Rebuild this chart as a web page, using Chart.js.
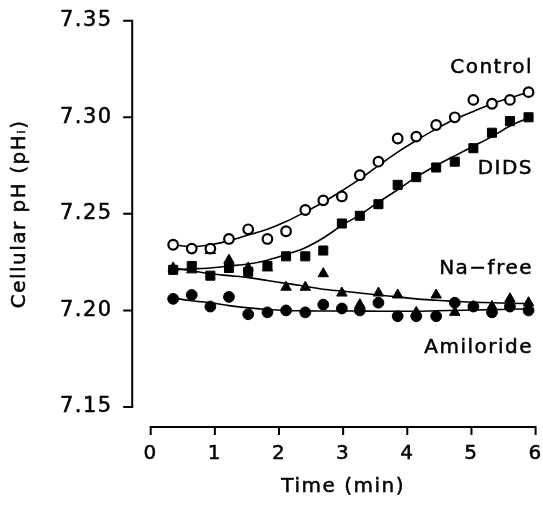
<!DOCTYPE html>
<html>
<head>
<meta charset="utf-8">
<script src="https://cdn.jsdelivr.net/npm/chart.js@4"></script>
<style>
  html,body{margin:0;padding:0;background:#fff;}
  #c{display:block;}
</style>
</head>
<body>
<canvas id="c" width="543" height="511"></canvas>
<script>
/* ====================== DATA ====================== */
const times     = [0.35,0.64,0.93,1.22,1.52,1.82,2.11,2.41,2.69,2.98,3.26,3.55,3.85,4.14,4.45,4.74,5.03,5.32,5.60,5.89];
const control   = [7.234,7.232,7.232,7.237,7.242,7.237,7.241,7.252,7.257,7.259,7.270,7.277,7.289,7.290,7.296,7.300,7.309,7.307,7.309,7.313];
const dids      = [7.221,7.223,7.218,7.222,7.220,7.223,7.228,7.228,7.231,7.245,7.249,7.255,7.265,7.269,7.274,7.277,7.284,7.292,7.298,7.300];
const naFree    = [7.222,7.221,7.231,7.226,7.222,7.222,7.212,7.212,7.219,7.209,7.203,7.209,7.208,7.199,7.208,7.199,7.202,7.202,7.206,7.204];
const amiloride = [7.206,7.208,7.202,7.207,7.198,7.199,7.200,7.199,7.203,7.201,7.200,7.204,7.197,7.197,7.197,7.204,7.202,7.199,7.202,7.200];

/* fitted curves at the same times */
const controlFit   = [7.234,7.233,7.234,7.236,7.239,7.242,7.246,7.251,7.256,7.262,7.268,7.275,7.282,7.288,7.294,7.299,7.303,7.307,7.310,7.313];
const didsFit      = [7.221,7.2215,7.222,7.223,7.224,7.226,7.229,7.2325,7.2375,7.244,7.2495,7.256,7.2625,7.269,7.275,7.280,7.285,7.290,7.2955,7.2997];
const naFreeFit    = [7.222,7.2205,7.219,7.218,7.217,7.2155,7.214,7.2125,7.211,7.210,7.209,7.208,7.207,7.206,7.2053,7.2047,7.2042,7.204,7.2037,7.2035];
const amilorideFit = [7.2065,7.205,7.204,7.2025,7.2013,7.2005,7.200,7.1998,7.1997,7.1997,7.1997,7.1996,7.1996,7.1996,7.1998,7.200,7.2002,7.2004,7.2006,7.2008];

const xTicks = [0,1,2,3,4,5,6];
const yTicks = [7.15,7.20,7.25,7.30,7.35];

const xTitle = 'Time (min)';
const yTitle = 'Cellular pH (pH\u1D62)';
const seriesNames = ['Control','DIDS','Na\u2212free','Amiloride'];
/* where the series names sit, in axis units (right edge, middle) */
const nameSpots = [[5.96,7.3255],[5.96,7.2735],[5.96,7.2215],[5.96,7.1805]];

/* ====================== HELPERS ====================== */
const FONT = '"DejaVu Sans", sans-serif';
const INK = 0.5;   // a little stroke on the text, the original type is heavier than Book
const pts = ys => times.map((t,i)=>({x:t,y:ys[i]}));

function marks(label, ys, style, radius, fill){
  return {
    label, data: pts(ys), showLine:false, order:1,
    pointStyle: style, pointRadius: radius, pointHoverRadius: radius,
    pointBackgroundColor: fill, pointBorderColor:'#000', pointBorderWidth: fill==='#fff'?2.2:1
  };
}
function curve(label, ys){
  return {
    label, data: pts(ys), showLine:true, order:2,
    borderColor:'#000', borderWidth:1.6, pointRadius:0, pointHoverRadius:0,
    cubicInterpolationMode:'monotone', fill:false
  };
}
function inkText(ctx, s, x, y){ ctx.strokeText(s, x, y); ctx.fillText(s, x, y); }

/* axes are drawn detached from the plot box, like the original */
const detachedAxes = {
  id:'detachedAxes',
  beforeDraw(chart){ chart.ctx.letterSpacing = '1.5px'; },
  afterDraw(chart){
    const {ctx, chartArea:a, scales:{x,y}} = chart;
    ctx.save();
    ctx.strokeStyle='#000'; ctx.lineWidth=2; ctx.lineCap='square';
    const yx = a.left - 18.5, xy = a.bottom + 20;
    ctx.beginPath();
    ctx.moveTo(yx, y.getPixelForValue(yTicks[yTicks.length-1]));
    ctx.lineTo(yx, y.getPixelForValue(yTicks[0]));
    yTicks.forEach(v=>{ const p=y.getPixelForValue(v); ctx.moveTo(yx,p); ctx.lineTo(yx-8,p); });
    ctx.moveTo(x.getPixelForValue(xTicks[0]), xy);
    ctx.lineTo(x.getPixelForValue(xTicks[xTicks.length-1]), xy);
    xTicks.forEach(v=>{ const p=x.getPixelForValue(v); ctx.moveTo(p,xy); ctx.lineTo(p,xy+7); });
    ctx.stroke();

    ctx.fillStyle='#000'; ctx.font='20px '+FONT; ctx.lineWidth=INK; ctx.lineCap='butt';
    ctx.textAlign='right'; ctx.textBaseline='middle';
    seriesNames.forEach((n,i)=>{
      inkText(ctx, n, x.getPixelForValue(nameSpots[i][0]), y.getPixelForValue(nameSpots[i][1]));
    });

    // axis titles
    ctx.textAlign='center';
    inkText(ctx, xTitle, (a.left+a.right)/2, a.bottom + 80);
    ctx.translate(20, (a.top+a.bottom)/2);
    ctx.rotate(-Math.PI/2);
    inkText(ctx, yTitle, 0, 0);
    ctx.restore();
  }
};

/* ====================== CHART ====================== */
new Chart(document.getElementById('c'), {
  type:'scatter',
  data:{ datasets:[
    curve('Control fit', controlFit),
    curve('DIDS fit', didsFit),
    curve('Na-free fit', naFreeFit),
    curve('Amiloride fit', amilorideFit),
    marks('Control', control, 'circle', 4.8, '#fff'),
    marks('DIDS', dids, 'rect', 6.4, '#000'),
    marks('Na-free', naFree, 'triangle', 6, '#000'),
    marks('Amiloride', amiloride, 'circle', 5.4, '#000')
  ]},
  options:{
    responsive:false, animation:false, devicePixelRatio:1,
    layout:{padding:{top:20.7, right:6.3, bottom:0, left:0}},
    plugins:{legend:{display:false}, tooltip:{enabled:false}},
    scales:{
      x:{
        type:'linear', min:0, max:6,
        afterBuildTicks: s=>{ s.ticks = xTicks.map(v=>({value:v})); },
        afterFit: s=>{ s.height = 104; s.paddingLeft = 0; s.paddingRight = 0; },
        grid:{display:false, drawTicks:false}, border:{display:false},
        ticks:{color:'#000', font:{family:FONT, size:20}, padding:35, maxRotation:0,
               textStrokeColor:'#000', textStrokeWidth:INK}
      },
      y:{
        type:'linear', min:7.15, max:7.35,
        afterBuildTicks: s=>{ s.ticks = yTicks.map(v=>({value:v})); },
        afterFit: s=>{ s.width = 150.7; s.paddingTop = 0; s.paddingBottom = 0; },
        grid:{display:false, drawTicks:false}, border:{display:false},
        ticks:{color:'#000', font:{family:FONT, size:21}, padding:38, callback:v=>v.toFixed(2),
               textStrokeColor:'#000', textStrokeWidth:INK}
      }
    }
  },
  plugins:[detachedAxes]
});
</script>
</body>
</html>
